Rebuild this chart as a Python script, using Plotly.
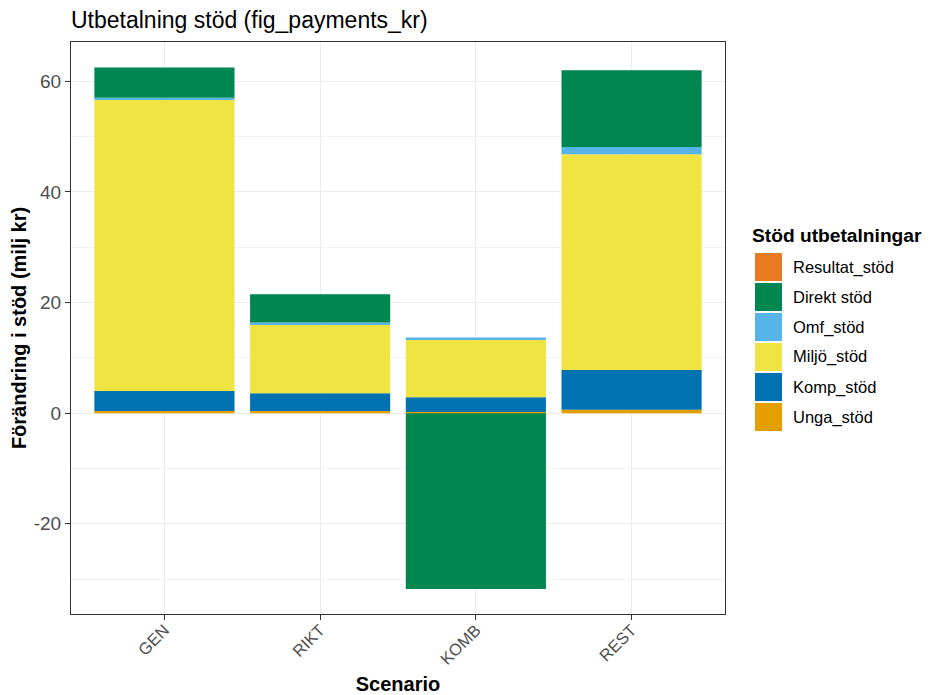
import plotly.graph_objects as go

scenarios = ["GEN", "RIKT", "KOMB", "REST"]
# stacking order bottom -> top
unga_stod = [0.4, 0.4, 0.2, 0.6]
komp_stod = [3.6, 3.2, 2.7, 7.2]
miljo_stod = [52.6, 12.5, 10.5, 39.0]
omf_stod = [0.4, 0.3, 0.3, 1.3]
direkt_stod = [5.5, 5.1, -31.8, 13.9]
resultat_stod = [0.0, 0.0, 0.0, 0.0]

series_names = ["Unga_stöd", "Komp_stöd", "Miljö_stöd", "Omf_stöd", "Direkt stöd", "Resultat_stöd"]
series_values = [unga_stod, komp_stod, miljo_stod, omf_stod, direkt_stod, resultat_stod]
series_colors = ["#E69F00", "#0072B2", "#F0E442", "#56B4E9", "#008751", "#E87B22"]

W, H = 930, 687
L, R, T, B = 63, 213, 34, 81
PW, PH = W - L - R, H - T - B

def px(fx):
    return (fx - L) / PW

def py(fy):
    return (H - B - fy) / PH

fig = go.Figure()
for name, vals, col in zip(series_names, series_values, series_colors):
    fig.add_trace(go.Bar(x=scenarios, y=vals, name=name,
                         marker=dict(color=col, line=dict(width=0)),
                         width=0.9, showlegend=False))

# manual legend (ggplot style keys), top entry = last stacked series
shapes, annos = [], []
annos.append(dict(text="<b>Stöd utbetalningar</b>", x=px(742), y=py(227), xref="paper", yref="paper",
                  xanchor="left", yanchor="middle", showarrow=False,
                  font=dict(size=19.2, color="#000")))
for i, (name, col) in enumerate(zip(series_names[::-1], series_colors[::-1])):
    cy = 259 + 30 * i
    shapes.append(dict(type="rect", xref="paper", yref="paper",
                       x0=px(747), x1=px(774), y0=py(cy - 14), y1=py(cy + 14),
                       fillcolor=col, line=dict(width=0), layer="above"))
    annos.append(dict(text=name, x=px(783), y=py(cy), xref="paper", yref="paper",
                      xanchor="left", yanchor="middle", showarrow=False,
                      font=dict(size=16.5, color="#000")))

font = "Liberation Sans, Arial, sans-serif"
fig.update_layout(
    barmode="relative",
    width=W, height=H,
    margin=dict(l=L, r=R, t=T, b=B),
    paper_bgcolor="white", plot_bgcolor="white",
    font=dict(family=font, color="#000000"),
    showlegend=False,
    shapes=shapes, annotations=annos,
    title=dict(text="Utbetalning stöd (fig_payments_kr)", x=L/W, xanchor="left", xref="container",
               y=1 - 12/H, yanchor="middle", font=dict(size=23, color="#000")),
    xaxis=dict(title=dict(text="<b>Scenario</b>", font=dict(size=20), standoff=16),
               automargin=False,
               showgrid=True, gridcolor="#EBEBEB", gridwidth=1,
               ticks="outside", ticklen=5, tickcolor="#333333",
               tickangle=-45, tickfont=dict(size=16.5, color="#4D4D4D"),
               ticklabelstandoff=-6,
               showline=True, linecolor="#333333", linewidth=1, mirror=True,
               range=[-0.6, 3.6]),
    yaxis=dict(title=dict(text="<b>Förändring i stöd (milj kr)</b>", font=dict(size=20), standoff=7),
               automargin=False,
               range=[-36.3, 67.1], tickvals=[-20, 0, 20, 40, 60],
               ticktext=["-20", "0", "20", "40", "60"],
               showgrid=True, gridcolor="#EBEBEB", gridwidth=1.2, zeroline=False,
               minor=dict(tickvals=[-30, -10, 10, 30, 50], showgrid=True, gridcolor="#F3F3F3", gridwidth=0.6),
               ticks="outside", ticklen=5, tickcolor="#333333",
               tickfont=dict(size=19, color="#4D4D4D"),
               showline=True, linecolor="#333333", linewidth=1, mirror=True),
)

fig.write_html("out.html")
